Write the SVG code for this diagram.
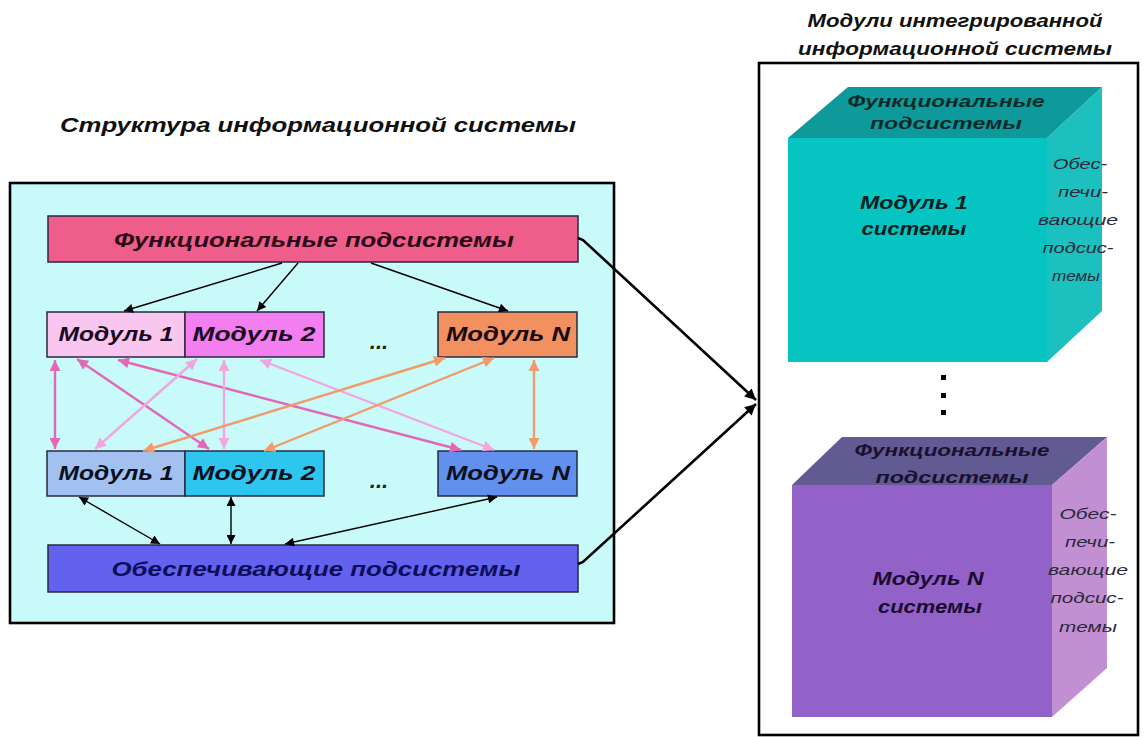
<svg xmlns="http://www.w3.org/2000/svg" width="1144" height="737" viewBox="0 0 1144 737">
  <style>
    .t { font-family: "Liberation Sans", Arial, sans-serif; font-weight: bold; font-style: italic; text-anchor: middle; }
    .side { font-family: "Liberation Sans", Arial, sans-serif; font-style: italic; text-anchor: middle; font-size: 15px; fill: #2a2a3a; }
    .box { stroke: #2a2a40; stroke-width: 1.5; }
    .blk { stroke: #000; stroke-width: 1.4; fill: none; }
    .big { stroke: #000; stroke-width: 2.6; fill: none; }
    .pk { stroke: #e466b6; stroke-width: 2.4; fill: none; }
    .lp { stroke: #f2a6e0; stroke-width: 2.4; fill: none; }
    .or { stroke: #f29a6a; stroke-width: 2.4; fill: none; }
  </style>
  <defs>
    <marker id="mBlk" viewBox="0 0 10 10" refX="10" refY="5" markerWidth="11" markerHeight="9" markerUnits="userSpaceOnUse" orient="auto-start-reverse">
      <path d="M0,0 L10,5 L0,10 z" fill="#000"/>
    </marker>
    <marker id="mBig" viewBox="0 0 10 10" refX="10" refY="5" markerWidth="15" markerHeight="11" markerUnits="userSpaceOnUse" orient="auto-start-reverse">
      <path d="M0,0 L10,5 L0,10 z" fill="#000"/>
    </marker>
    <marker id="mPk" viewBox="0 0 10 10" refX="10" refY="5" markerWidth="14" markerHeight="11" markerUnits="userSpaceOnUse" orient="auto-start-reverse">
      <path d="M0,0 L10,5 L0,10 z" fill="#e466b6"/>
    </marker>
    <marker id="mLp" viewBox="0 0 10 10" refX="10" refY="5" markerWidth="14" markerHeight="11" markerUnits="userSpaceOnUse" orient="auto-start-reverse">
      <path d="M0,0 L10,5 L0,10 z" fill="#f2a6e0"/>
    </marker>
    <marker id="mOr" viewBox="0 0 10 10" refX="10" refY="5" markerWidth="14" markerHeight="11" markerUnits="userSpaceOnUse" orient="auto-start-reverse">
      <path d="M0,0 L10,5 L0,10 z" fill="#f29a6a"/>
    </marker>
  </defs>

  <rect width="1144" height="737" fill="#fff"/>

  <!-- Titles -->
  <text class="t" x="318" y="132" font-size="21" textLength="516" lengthAdjust="spacingAndGlyphs" fill="#111">Структура информационной системы</text>
  <text class="t" x="955" y="27" font-size="18" textLength="295" lengthAdjust="spacingAndGlyphs" fill="#111">Модули интегрированной</text>
  <text class="t" x="955" y="55" font-size="18" textLength="314" lengthAdjust="spacingAndGlyphs" fill="#111">информационной системы</text>

  <!-- Left frame -->
  <g id="structure-frame">
    <rect x="10" y="183" width="604" height="440" fill="#c8fafa" stroke="#000" stroke-width="2.6"/>
  </g>

  <!-- Right frame -->
  <g id="modules-frame">
    <rect x="759" y="63" width="379" height="672" fill="#fff" stroke="#000" stroke-width="2.6"/>
  </g>

  <g id="func-subsystems">
    <rect class="box" x="48" y="216" width="530" height="46" fill="#ef5e8a"/>
    <text class="t" x="314" y="247" font-size="21" textLength="400" lengthAdjust="spacingAndGlyphs" fill="#2a0818">Функциональные подсистемы</text>
  </g>

  <g id="f-module-1">
    <rect class="box" x="47" y="312" width="138" height="45" fill="#f8c6ee"/>
    <text class="t" x="116" y="341" font-size="21" textLength="115" lengthAdjust="spacingAndGlyphs" fill="#1a0a20">Модуль 1</text>
  </g>
  <g id="f-module-2">
    <rect class="box" x="185" y="312" width="139" height="45" fill="#f27ef0"/>
    <text class="t" x="254" y="341" font-size="21" textLength="123" lengthAdjust="spacingAndGlyphs" fill="#1a0a20">Модуль 2</text>
  </g>
  <text class="t" x="379" y="349" font-size="22" fill="#222">...</text>
  <g id="f-module-n">
    <rect class="box" x="438" y="312" width="139" height="45" fill="#f29060"/>
    <text class="t" x="508" y="341" font-size="21" textLength="124" lengthAdjust="spacingAndGlyphs" fill="#1a0a10">Модуль N</text>
  </g>

  <g id="s-module-1">
    <rect class="box" x="47" y="451" width="138" height="45" fill="#a2c0f0"/>
    <text class="t" x="116" y="480" font-size="21" textLength="115" lengthAdjust="spacingAndGlyphs" fill="#0a1020">Модуль 1</text>
  </g>
  <g id="s-module-2">
    <rect class="box" x="185" y="451" width="139" height="45" fill="#2ec6ee"/>
    <text class="t" x="254" y="480" font-size="21" textLength="123" lengthAdjust="spacingAndGlyphs" fill="#0a1020">Модуль 2</text>
  </g>
  <text class="t" x="379" y="488" font-size="22" fill="#222">...</text>
  <g id="s-module-n">
    <rect class="box" x="438" y="451" width="139" height="45" fill="#6290ee"/>
    <text class="t" x="508" y="480" font-size="21" textLength="124" lengthAdjust="spacingAndGlyphs" fill="#0a1020">Модуль N</text>
  </g>

  <g id="supp-subsystems">
    <rect class="box" x="48" y="545" width="530" height="47" fill="#6262ee"/>
    <text class="t" x="316" y="576" font-size="21" textLength="409" lengthAdjust="spacingAndGlyphs" fill="#0e0e5a">Обеспечивающие подсистемы</text>
  </g>

  <!-- Module 1 cube -->
  <g id="cube-1">
    <polygon points="788,138 848,87 1102,87 1047,138" fill="#0e9a9a"/>
    <polygon points="1047,138 1102,87 1102,311 1047,362" fill="#1cc0be"/>
    <rect x="788" y="138" width="259" height="224" fill="#06c4c2"/>
    <text class="t" x="946" y="107" font-size="16" textLength="197" lengthAdjust="spacingAndGlyphs" fill="#0a2a2a">Функциональные</text>
    <text class="t" x="946" y="129" font-size="16" textLength="152" lengthAdjust="spacingAndGlyphs" fill="#0a2a2a">подсистемы</text>
    <text class="t" x="914" y="209" font-size="18" textLength="108" lengthAdjust="spacingAndGlyphs" fill="#0a2020">Модуль 1</text>
    <text class="t" x="914" y="235" font-size="18" textLength="105" lengthAdjust="spacingAndGlyphs" fill="#0a2020">системы</text>
    <text class="side" x="1080" y="169" textLength="54" lengthAdjust="spacingAndGlyphs">Обес-</text>
    <text class="side" x="1083" y="197" textLength="50" lengthAdjust="spacingAndGlyphs">печи-</text>
    <text class="side" x="1078" y="225" textLength="80" lengthAdjust="spacingAndGlyphs">вающие</text>
    <text class="side" x="1078" y="253" textLength="71" lengthAdjust="spacingAndGlyphs">подсис-</text>
    <text class="side" x="1076" y="281" textLength="48" lengthAdjust="spacingAndGlyphs">темы</text>
  </g>

  <!-- Vertical ellipsis between cubes -->
  <g id="ellipsis" fill="#000">
    <rect x="941" y="375" width="5" height="5"/>
    <rect x="941" y="393" width="5" height="5"/>
    <rect x="941" y="410" width="5" height="5"/>
  </g>

  <!-- Module N cube -->
  <g id="cube-n">
    <polygon points="792,485 842,437 1107,437 1052,485" fill="#625a92"/>
    <polygon points="1052,485 1107,437 1107,668 1052,717" fill="#c290d2"/>
    <rect x="792" y="485" width="260" height="232" fill="#9362c8"/>
    <text class="t" x="952" y="456" font-size="16" textLength="195" lengthAdjust="spacingAndGlyphs" fill="#1a1030">Функциональные</text>
    <text class="t" x="952" y="483" font-size="16" textLength="153" lengthAdjust="spacingAndGlyphs" fill="#1a1030">подсистемы</text>
    <text class="t" x="928" y="585" font-size="18" textLength="111" lengthAdjust="spacingAndGlyphs" fill="#1a0a30">Модуль N</text>
    <text class="t" x="930" y="613" font-size="18" textLength="104" lengthAdjust="spacingAndGlyphs" fill="#1a0a30">системы</text>
    <text class="side" x="1088" y="519" textLength="57" lengthAdjust="spacingAndGlyphs">Обес-</text>
    <text class="side" x="1090" y="547" textLength="50" lengthAdjust="spacingAndGlyphs">печи-</text>
    <text class="side" x="1088" y="575" textLength="80" lengthAdjust="spacingAndGlyphs">вающие</text>
    <text class="side" x="1087" y="603" textLength="73" lengthAdjust="spacingAndGlyphs">подсис-</text>
    <text class="side" x="1088" y="632" textLength="58" lengthAdjust="spacingAndGlyphs">темы</text>
  </g>

  <!-- Connectors -->
  <g id="connectors">
    <!-- functional subsystems to first-row modules -->
    <line class="blk" x1="282" y1="263" x2="124" y2="311" marker-end="url(#mBlk)"/>
    <line class="blk" x1="298" y1="263" x2="257" y2="311" marker-end="url(#mBlk)"/>
    <line class="blk" x1="371" y1="263" x2="508" y2="311" marker-end="url(#mBlk)"/>

    <!-- links between module rows -->
    <line class="pk" x1="55" y1="360" x2="55" y2="449" marker-start="url(#mPk)" marker-end="url(#mPk)"/>
    <line class="pk" x1="77" y1="359" x2="209" y2="449" marker-start="url(#mPk)" marker-end="url(#mPk)"/>
    <line class="pk" x1="118" y1="360" x2="461" y2="450" marker-start="url(#mPk)" marker-end="url(#mPk)"/>
    <line class="lp" x1="197" y1="359" x2="95" y2="449" marker-start="url(#mLp)" marker-end="url(#mLp)"/>
    <line class="lp" x1="224" y1="360" x2="224" y2="449" marker-start="url(#mLp)" marker-end="url(#mLp)"/>
    <line class="lp" x1="260" y1="360" x2="494" y2="450" marker-start="url(#mLp)" marker-end="url(#mLp)"/>
    <line class="or" x1="445" y1="358" x2="143" y2="451" marker-start="url(#mOr)" marker-end="url(#mOr)"/>
    <line class="or" x1="494" y1="358" x2="264" y2="451" marker-start="url(#mOr)" marker-end="url(#mOr)"/>
    <line class="or" x1="534" y1="360" x2="534" y2="449" marker-start="url(#mOr)" marker-end="url(#mOr)"/>

    <!-- second-row modules to supporting subsystems -->
    <line class="blk" x1="79" y1="497" x2="160" y2="544" marker-start="url(#mBlk)" marker-end="url(#mBlk)"/>
    <line class="blk" x1="231" y1="497" x2="231" y2="544" marker-start="url(#mBlk)" marker-end="url(#mBlk)"/>
    <line class="blk" x1="497" y1="497" x2="285" y2="544" marker-start="url(#mBlk)" marker-end="url(#mBlk)"/>

    <!-- structure to integrated modules -->
    <polyline class="big" points="578,238 583,240 756,400" marker-end="url(#mBig)"/>
    <polyline class="big" points="578,564 583,562 756,404" marker-end="url(#mBig)"/>
  </g>
</svg>
